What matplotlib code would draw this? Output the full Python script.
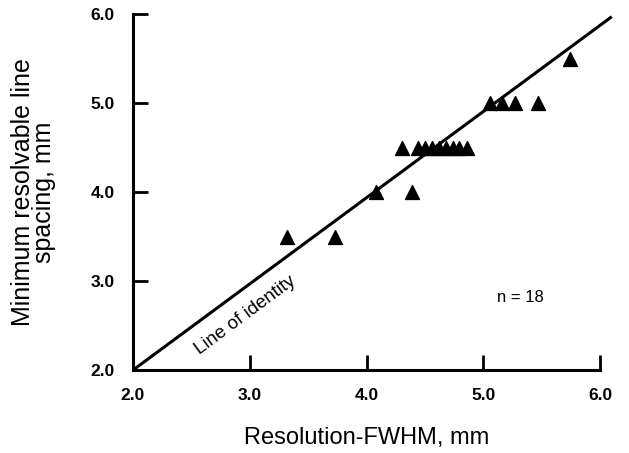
import numpy as np
import matplotlib.pyplot as plt

plt.rcParams['font.family'] = ['Liberation Sans', 'DejaVu Sans']

# measured resolution (FWHM) vs minimum resolvable line spacing
fwhm = [3.32, 3.73,
        4.08, 4.39,
        4.30, 4.44, 4.50, 4.56, 4.62, 4.68, 4.74, 4.79, 4.86,
        5.06, 5.16, 5.27, 5.47,
        5.74]
spacing = [3.5, 3.5,
           4.0, 4.0,
           4.5, 4.5, 4.5, 4.5, 4.5, 4.5, 4.5, 4.5, 4.5,
           5.0, 5.0, 5.0, 5.0,
           5.5]

line_x = [2.0, 6.1]
line_y = [2.0, 5.97]

ticks = [2.0, 3.0, 4.0, 5.0, 6.0]
tick_labels = ['2.0', '3.0', '4.0', '5.0', '6.0']

fig = plt.figure(figsize=(6.29, 4.53), dpi=100)
ax = fig.add_axes([0.2114, 0.183, 0.7426, 0.786])

ax.plot(line_x, line_y, color='black', lw=2.2, clip_on=False, solid_capstyle='butt')
ax.scatter(fwhm, spacing, marker='^', s=100, color='black', zorder=3, clip_on=False)

ax.set_xlim(2.0, 6.0)
ax.set_ylim(2.0, 6.0)
ax.set_xticks(ticks)
ax.set_xticklabels(tick_labels)
ax.set_yticks(ticks)
ax.set_yticklabels(tick_labels)

for side in ['top', 'right']:
    ax.spines[side].set_visible(False)
for side in ['left', 'bottom']:
    ax.spines[side].set_linewidth(2.2)

ax.tick_params(direction='in', length=11, width=2, labelsize=12.5)
ax.tick_params(axis='x', pad=13)
ax.tick_params(axis='y', pad=13)
for lab in ax.get_xticklabels() + ax.get_yticklabels():
    lab.set_fontweight('bold')

ax.set_xlabel('Resolution-FWHM, mm', fontsize=17, labelpad=17)
ax.set_ylabel('Minimum resolvable line\nspacing, mm', fontsize=18, labelpad=25,
              linespacing=0.85)

ax.text(2.96, 2.62, 'Line of identity', rotation=36.5, fontsize=13.5,
        ha='center', va='center')
ax.text(5.32, 2.82, 'n = 18', fontsize=12, ha='center', va='center')

fig.savefig('out.png', dpi=100)
